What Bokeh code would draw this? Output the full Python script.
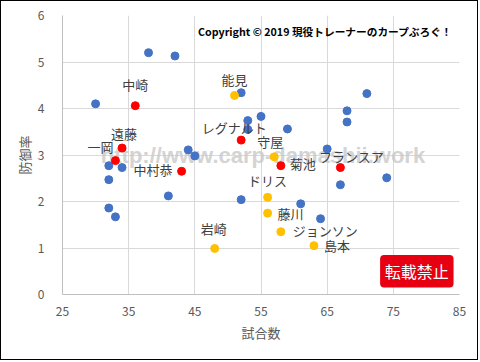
from bokeh.plotting import figure
from bokeh.models import Range1d, FixedTicker, ColumnDataSource
from bokeh.core.properties import value
from bokeh.embed import file_html
from bokeh.resources import INLINE

# ---- data ----
blue_games = [38, 42, 30, 44, 45, 32, 34, 32, 41, 32, 33, 52, 52, 53, 55, 53, 59, 68, 68, 65, 67, 61, 71, 74, 64]
blue_era = [5.20, 5.13, 4.10, 3.11, 2.98, 2.77, 2.73, 2.47, 2.12, 1.86, 1.67, 2.04, 4.34, 3.74, 3.83, 3.55, 3.56, 3.95, 3.71, 3.13, 2.36, 1.95, 4.32, 2.51, 1.63]

red_names = ["中崎", "遠藤", "一岡", "中村恭", "レグナルト", "菊池", "フランスア"]
red_games = [36, 34, 33, 43, 52, 58, 67]
red_era = [4.06, 3.15, 2.88, 2.65, 3.32, 2.77, 2.73]

orange_names = ["能見", "守屋", "ドリス", "藤川", "ジョンソン", "島本", "岩崎"]
orange_games = [51, 57, 56, 56, 58, 63, 48]
orange_era = [4.28, 2.96, 2.09, 1.75, 1.35, 1.05, 0.99]

x_ticks = [25, 35, 45, 55, 65, 75, 85]
y_ticks = [0, 1, 2, 3, 4, 5, 6]
x_title = "試合数"
y_title = "防御率"
copyright_text = "Copyright © 2019 現役トレーナーのカープぶろぐ！"
watermark_text = "http://www.carp-damashii.work"
stamp_text = "転載禁止"

# ---- label placement styles (screen px offsets, alignment) ----
label_style = {
    "中崎": (0, -21, "center"),
    "遠藤": (2, -15, "center"),
    "一岡": (-2, -14, "right"),
    "中村恭": (-9, -2, "right"),
    "レグナルト": (-7, -13, "center"),
    "菊池": (9, -2, "left"),
    "フランスア": (11, -11, "center"),
    "能見": (0, -16, "center"),
    "守屋": (-4, -15, "center"),
    "ドリス": (0, -17, "center"),
    "藤川": (10, 0, "left"),
    "ジョンソン": (12, -1, "left"),
    "島本": (10, 0, "left"),
    "岩崎": (-1, -20, "center"),
}

FONT = "Noto Sans CJK JP"
GRAY = "#595959"

p = figure(width=478, height=360, output_backend="svg", toolbar_location=None,
           x_range=Range1d(25, 85), y_range=Range1d(0, 6),
           min_border_left=61, min_border_right=20, min_border_top=14, min_border_bottom=67)
p.styles = {"border": "1px solid black"}
p.outline_line_color = None
p.background_fill_color = "white"
p.border_fill_color = "white"

for ax, ticks in ((p.xaxis, x_ticks), (p.yaxis, y_ticks)):
    ax.ticker = FixedTicker(ticks=ticks)
    ax.axis_line_color = "#bfbfbf"
    ax.major_tick_line_color = None
    ax.minor_tick_line_color = None
    ax.major_label_text_color = GRAY
    ax.major_label_text_font = FONT
    ax.major_label_text_font_size = "12px"
    ax.axis_label_text_color = GRAY
    ax.axis_label_text_font = FONT
    ax.axis_label_text_font_size = "13px"
    ax.axis_label_text_font_style = "normal"
p.xaxis.axis_label = x_title
p.yaxis.axis_label = y_title
p.xaxis.major_label_standoff = 6
p.xaxis.axis_label_standoff = 4
p.yaxis.major_label_standoff = 12
p.yaxis.axis_label_standoff = 1

p.xgrid.ticker = FixedTicker(ticks=x_ticks)
p.ygrid.ticker = FixedTicker(ticks=y_ticks)
p.grid.grid_line_color = "#d9d9d9"

# watermark (under points)
p.text(x=[55.3], y=[2.99], text=[watermark_text], text_font=value("Liberation Sans"),
       text_font_style="bold", text_font_size="22px", text_color="#c8c8c8", text_alpha=0.8,
       text_align="center", text_baseline="middle")

p.scatter(blue_games, blue_era, size=8, color="#4472C4")
p.scatter(red_games, red_era, size=8, color="#FF0000")
p.scatter(orange_games, orange_era, size=8, color="#FFC000")

names = red_names + orange_names
src = ColumnDataSource(dict(
    x=red_games + orange_games,
    y=red_era + orange_era,
    t=names,
    dx=[label_style[n][0] for n in names],
    dy=[label_style[n][1] for n in names],
    al=[label_style[n][2] for n in names],
))
p.text(x="x", y="y", text="t", x_offset="dx", y_offset="dy", text_align="al",
       text_baseline="middle", text_font=value(FONT), text_font_size="13px",
       text_color="#404040", source=src)

# copyright
p.text(x=[83.9], y=[5.66], text=[copyright_text], text_font=value(FONT),
       text_font_style="bold", text_font_size="10.7px", text_color="black",
       text_align="right", text_baseline="middle")

# stamp
p.quad(left=[73.0], right=[84.1], bottom=[0.15], top=[0.85], fill_color="#E60012",
       line_color=None, border_radius=4)
p.text(x=[78.55], y=[0.5], text=[stamp_text], text_font=value(FONT),
       text_font_size="16px", text_color="white", text_align="center", text_baseline="middle")

open("out.html", "w").write(file_html(p, INLINE))
